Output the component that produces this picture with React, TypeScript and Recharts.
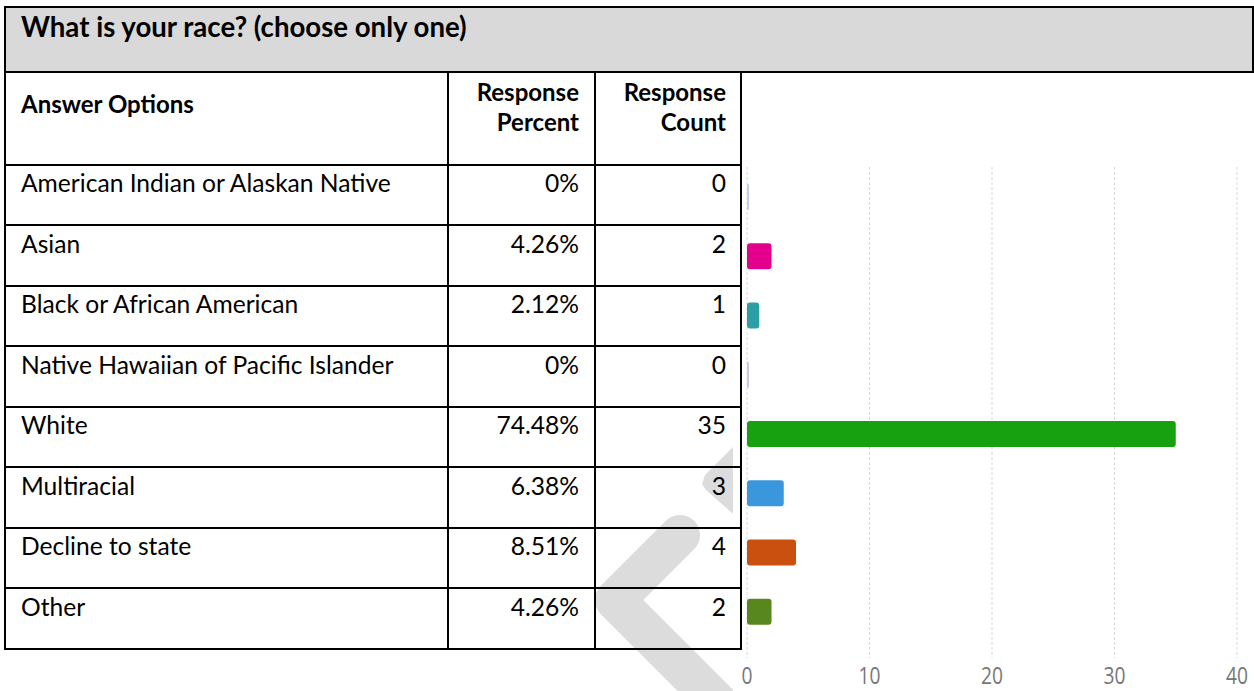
import { BarChart, Bar, XAxis, YAxis, CartesianGrid, Cell } from 'recharts'

const answers = [
  'American Indian or Alaskan Native',
  'Asian',
  'Black or African American',
  'Native Hawaiian of Pacific Islander',
  'White',
  'Multiracial',
  'Decline to state',
  'Other',
]
const percents = ['0%', '4.26%', '2.12%', '0%', '74.48%', '6.38%', '8.51%', '4.26%']
const counts = [0, 2, 1, 0, 35, 3, 4, 2]
const barColors = ['#c3ccf2', '#e3008c', '#2b9fa5', '#cfc6e8', '#17a010', '#3a96dd', '#ca5010', '#58861f']
const xTicks = [0, 10, 20, 30, 40]

const FONT = 'Lato, "Open Sans", sans-serif'
const ROW_TOP = 164.5
const ROW_H = 60.5

// table borders
const hLine = (y: number, x1: number, x2: number, key: string) => (
  <div key={key} style={{ position: 'absolute', left: x1, top: y - 1, width: x2 - x1, height: 2, background: '#000' }} />
)
const vLine = (x: number, y1: number, y2: number, key: string) => (
  <div key={key} style={{ position: 'absolute', left: x - 1, top: y1, width: 2, height: y2 - y1, background: '#000' }} />
)

const cellText = (
  text: string | number,
  left: number,
  right: number,
  top: number,
  align: 'left' | 'right',
  bold = false,
  key = '',
  size = 24.6,
  lh = 29,
) => (
  <div
    key={key}
    style={{
      position: 'absolute',
      left,
      width: right - left,
      top,
      textAlign: align,
      fontFamily: FONT,
      fontSize: size,
      lineHeight: `${lh}px`,
      fontWeight: bold ? 700 : 400,
      color: '#000',
      whiteSpace: 'nowrap',
    }}
  >
    {text}
  </div>
)

const renderTick = (props: any) => {
  const { x, y, payload } = props
  return (
    <g transform={`translate(${x},${y + 18})`}>
      <text textAnchor="middle" transform="scale(0.8,1)" fontFamily="'Open Sans', sans-serif" fontSize={24} fill="#777">
        {payload.value}
      </text>
    </g>
  )
}

export default function App() {
  const data = answers.map((name, i) => ({ name, count: counts[i] }))
  const bottom = ROW_TOP + answers.length * ROW_H

  return (
    <div style={{ position: 'absolute', left: 0, top: 0, width: 1254, height: 691, background: '#fff', overflow: 'hidden' }}>
      {/* watermark */}
      <svg width={1254} height={691} style={{ position: 'absolute', left: 0, top: 0 }}>
        <polyline points="680,535 615,600 725,710" fill="none" stroke="#dcdcdc" strokeWidth={40} strokeLinecap="round" strokeLinejoin="round" />
        <polygon points="740,440 705,475 702,484 706,490 740,520" fill="#dcdcdc" />
      </svg>

      {/* title bar */}
      <div style={{ position: 'absolute', left: 4, top: 7, width: 1250, height: 64, background: '#d9d9d9' }} />

      <div style={{ position: 'absolute', left: 733, top: 150, width: 521, height: 541, background: '#fff' }}>
        <BarChart width={521} height={541} data={data} layout="vertical" margin={{ top: 17, right: 17, left: 14, bottom: 3 }}>
          <CartesianGrid horizontal={false} stroke="#d9d9d9" strokeDasharray="3 2" />
          <XAxis type="number" domain={[0, 40]} ticks={xTicks} axisLine={false} tickLine={false} tick={renderTick} height={30} />
          <YAxis type="category" dataKey="name" width={0} tick={false} tickLine={false} axisLine={{ stroke: '#d4d4d4', strokeWidth: 2 }} padding={{ top: 0, bottom: 17 }} />
          <Bar dataKey="count" barSize={26} radius={3} minPointSize={2} isAnimationActive={false}>
            {data.map((entry, i) => (
              <Cell key={`cell-${i}`} fill={barColors[i]} />
            ))}
          </Bar>
        </BarChart>
      </div>

      {/* title */}
      {cellText('What is your race? (choose only one)', 21, 700, 10, 'left', true, 'title', 27.6, 33)}

      {/* header */}
      {cellText('Answer Options', 21, 440, 89, 'left', true, 'h1', 24)}
      {cellText('Response', 450, 579, 77, 'right', true, 'h2a', 24)}
      {cellText('Percent', 450, 579, 107, 'right', true, 'h2b', 24)}
      {cellText('Response', 597, 726, 77, 'right', true, 'h3a', 24)}
      {cellText('Count', 597, 726, 107, 'right', true, 'h3b', 24)}

      {answers.map((a, i) => {
        const top = ROW_TOP + i * ROW_H + 3.5
        return [
          cellText(a, 21, 440, top, 'left', false, `a${i}`),
          cellText(percents[i], 450, 579, top, 'right', false, `p${i}`),
          cellText(counts[i], 597, 726, top, 'right', false, `c${i}`),
        ]
      })}

      {/* borders */}
      {hLine(7, 4, 1254, 'top')}
      {hLine(71.5, 4, 1254, 'tb')}
      {answers.map((_, i) => hLine(ROW_TOP + i * ROW_H, 4, 742, `r${i}`))}
      {hLine(bottom, 4, 742, 'bottom')}
      {vLine(5, 6, bottom + 1, 'v0')}
      {vLine(448, 71, bottom + 1, 'v1')}
      {vLine(595, 71, bottom + 1, 'v2')}
      {vLine(741, 71, bottom + 1, 'v3')}
      {vLine(1253, 6, 72, 'v4')}
    </div>
  )
}
